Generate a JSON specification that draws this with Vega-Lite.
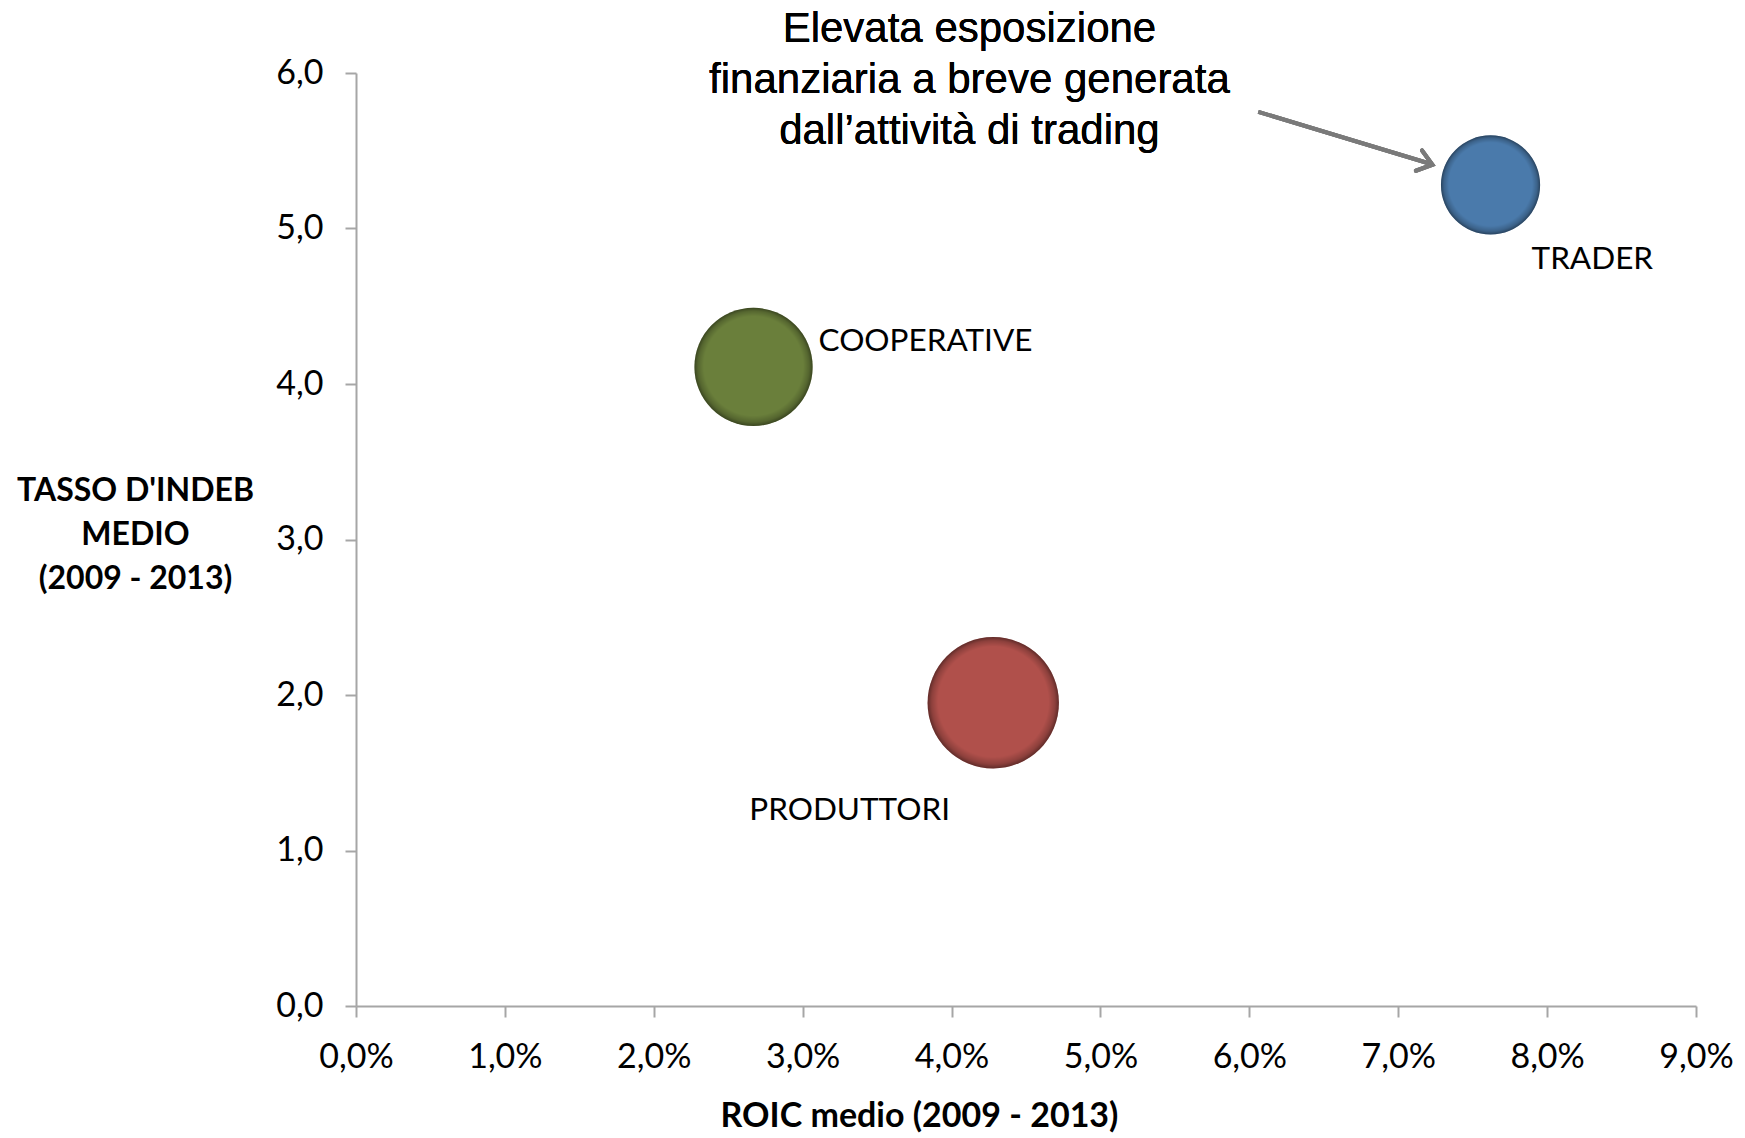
{
  "$schema": "https://vega.github.io/schema/vega-lite/v6.json",
  "width": 1340,
  "height": 933,
  "autosize": "none",
  "padding": {"left": 356, "top": 73, "right": 49, "bottom": 132},
  "background": "white",
  "config": {
    "view": {"stroke": null},
    "font": "Lato",
    "axis": {
      "grid": false,
      "domainColor": "#a6a6a6",
      "domainWidth": 2,
      "tickColor": "#a6a6a6",
      "tickWidth": 2,
      "tickSize": 11,
      "labelFont": "Lato",
      "labelFontSize": 34,
      "labelColor": "#000000",
      "labelFlush": false,
      "titleFont": "Lato",
      "titleFontWeight": "bold",
      "titleFontSize": 32,
      "titleColor": "#000000"
    }
  },
  "data": {
    "values": [
      {"gruppo": "TRADER", "roic": 0.0762, "indeb": 5.28, "dim": 57},
      {"gruppo": "COOPERATIVE", "roic": 0.0267, "indeb": 4.11, "dim": 81},
      {"gruppo": "PRODUTTORI", "roic": 0.0428, "indeb": 1.95, "dim": 100}
    ]
  },
  "layer": [
    {
      "mark": {"type": "point", "filled": true, "opacity": 1, "strokeWidth": 0},
      "encoding": {
        "x": {
          "field": "roic", "type": "quantitative",
          "scale": {"domain": [0, 0.09], "nice": false, "zero": true},
          "axis": {
            "values": [0, 0.01, 0.02, 0.03, 0.04, 0.05, 0.06, 0.07, 0.08, 0.09],
            "labelExpr": "replace(format(datum.value, '.1%'), '.', ',')",
            "labelPadding": 23,
            "title": "ROIC medio (2009 - 2013)",
            "titleFontSize": 34,
            "titleX": 563,
            "titleY": 110,
            "titleBaseline": "middle",
            "titleAnchor": null,
            "titleAlign": "center"
          }
        },
        "y": {
          "field": "indeb", "type": "quantitative",
          "scale": {"domain": [0, 6], "nice": false, "zero": true},
          "axis": {
            "values": [0, 1, 2, 3, 4, 5, 6],
            "labelExpr": "replace(format(datum.value, '.1f'), '.', ',')",
            "labelPadding": 22,
            "title": ["TASSO D'INDEB", "MEDIO", "(2009 - 2013)"],
            "titleAngle": 0,
            "titleAlign": "center",
            "titleBaseline": "middle",
            "titleLineHeight": 44,
            "titleX": -221,
            "titleY": 417,
            "titleAnchor": null
          }
        },
        "color": {
          "field": "gruppo", "type": "nominal",
          "scale": {"domain": ["TRADER", "COOPERATIVE", "PRODUTTORI"], "range": ["#4a7aab", "#6a7f3b", "#b0504b"]},
          "legend": null
        },
        "size": {
          "field": "dim", "type": "quantitative",
          "scale": {"type": "linear", "domain": [0, 100], "range": [0, 17250]},
          "legend": null
        }
      }
    },
    {
      "mark": {
        "type": "point", "filled": true, "strokeWidth": 0,
        "color": {
          "gradient": "radial",
          "x1": 0.5, "y1": 0.45, "r1": 0,
          "x2": 0.5, "y2": 0.5, "r2": 0.5,
          "stops": [
            {"offset": 0, "color": "rgba(0,0,0,0)"},
            {"offset": 0.84, "color": "rgba(0,0,0,0)"},
            {"offset": 0.94, "color": "rgba(0,0,0,0.2)"},
            {"offset": 1, "color": "rgba(0,0,0,0.45)"}
          ]
        },
        "opacity": 1
      },
      "encoding": {
        "x": {"field": "roic", "type": "quantitative"},
        "y": {"field": "indeb", "type": "quantitative"},
        "size": {"field": "dim", "type": "quantitative"}
      }
    },
    {
      "transform": [{"filter": "datum.gruppo === 'TRADER'"}],
      "mark": {"type": "text", "align": "left", "baseline": "middle", "dx": 41, "dy": 75, "font": "Lato", "fontSize": 31.5, "color": "#000000"},
      "encoding": {
        "x": {"field": "roic", "type": "quantitative"},
        "y": {"field": "indeb", "type": "quantitative"},
        "text": {"field": "gruppo"}
      }
    },
    {
      "transform": [{"filter": "datum.gruppo === 'COOPERATIVE'"}],
      "mark": {"type": "text", "align": "left", "baseline": "middle", "dx": 65, "dy": -25, "font": "Lato", "fontSize": 31.5, "color": "#000000"},
      "encoding": {
        "x": {"field": "roic", "type": "quantitative"},
        "y": {"field": "indeb", "type": "quantitative"},
        "text": {"field": "gruppo"}
      }
    },
    {
      "transform": [{"filter": "datum.gruppo === 'PRODUTTORI'"}],
      "mark": {"type": "text", "align": "left", "baseline": "middle", "dx": -244, "dy": 108, "font": "Lato", "fontSize": 31.5, "color": "#000000"},
      "encoding": {
        "x": {"field": "roic", "type": "quantitative"},
        "y": {"field": "indeb", "type": "quantitative"},
        "text": {"field": "gruppo"}
      }
    },
    {
      "mark": {"type": "text", "align": "center", "baseline": "middle", "font": "Liberation Sans", "fontSize": 42, "lineHeight": 51, "color": "#000000",
        "text": ["Elevata esposizione", "finanziaria a breve generata", "dall’attività di trading"]},
      "encoding": {
        "x": {"datum": 0.0412, "type": "quantitative"},
        "y": {"datum": 6.283, "type": "quantitative"}
      }
    },
    {
      "mark": {"type": "rule", "color": "#7a7a7a", "strokeWidth": 4},
      "encoding": {
        "x": {"datum": 0.0606, "type": "quantitative"},
        "y": {"datum": 5.75, "type": "quantitative"},
        "x2": {"datum": 0.0722},
        "y2": {"datum": 5.415}
      }
    },
    {
      "mark": {"type": "point", "shape": "M -1 -0.75 L 0 0 L -1 0.75", "filled": false, "stroke": "#7a7a7a", "strokeWidth": 4, "size": 800, "angle": 17, "opacity": 1, "strokeCap": "round", "strokeJoin": "miter"},
      "encoding": {
        "x": {"datum": 0.0723, "type": "quantitative"},
        "y": {"datum": 5.41, "type": "quantitative"}
      }
    }
  ]
}
